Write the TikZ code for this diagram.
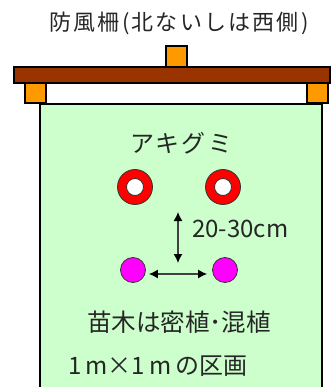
\documentclass[tikz,border=0pt]{standalone}
\usepackage{fontspec}
\setmainfont{Noto Sans CJK JP}
\usetikzlibrary{arrows.meta}
\definecolor{brn}{HTML}{993300}
\definecolor{org}{HTML}{FF9900}
\definecolor{grn}{HTML}{CCFFCC}
\definecolor{rd}{HTML}{FF0000}
\definecolor{mg}{HTML}{FF00FF}
\tikzset{
  box/.style={draw=black,line width=1.2pt},
  arr/.style={line width=1.3pt,draw=black!75,{Latex[length=9pt,width=9pt,black]}-{Latex[length=9pt,width=9pt,black]}},
  lbl/.style={inner sep=0pt,text=black!85},
  ring/.style={circle,draw=black!80,line width=0.8pt,fill=rd,inner sep=0pt,minimum size=35pt},
  hole/.style={circle,draw=black!80,line width=0.8pt,fill=white,inner sep=0pt,minimum size=17pt},
  seed/.style={circle,draw=black!80,line width=0.8pt,fill=mg,inner sep=0pt,minimum size=25pt}
}
\begin{document}
\begin{tikzpicture}[x=1pt,y=-1pt]
\useasboundingbox (0,0) rectangle (331,387);
\fill[white] (0,0) rectangle (331,387);
% field
\fill[grn] (40,104) rectangle (322,390);
\draw[box] (40,390) -- (40,104) -- (322,104) -- (322,390);
% fence
\draw[box,fill=org] (166,46) rectangle (187,67);
\draw[box,fill=brn] (14,67) rectangle (330,83);
\draw[box,fill=org] (25,83) rectangle (46,103);
\draw[box,fill=org] (307,83) rectangle (328,103);
% texts
\node[lbl,font=\fontsize{22}{26}\selectfont\addfontfeature{LetterSpace=10}] (title) at (179,23) {防風柵(北ないしは西側)};
\node[lbl,font=\fontsize{24}{28}\selectfont] (akg) at (181,143) {ア\hspace{2pt}キ\hspace{2pt}グ\hspace{2pt}ミ};
% plants
\node[ring] (r1) at (135,187) {};
\node[hole] (h1) at (r1) {};
\node[ring] (r2) at (223,187) {};
\node[hole] (h2) at (r2) {};
\node[seed] (m1) at (133,270) {};
\node[seed] (m2) at (225,270) {};
\coordinate (vt) at (178,212);
\coordinate (vb) at (178,263);
\draw[arr] (vt) -- (vb);
\draw[arr] ([xshift=3pt,yshift=-4pt]m1.east) -- ([xshift=-5pt,yshift=-4pt]m2.west);
\node[lbl,anchor=west,font=\fontsize{24}{28}\selectfont] (dist) at (192,229) {20-30cm};
\node[lbl,font=\fontsize{24.5}{28}\selectfont] (mix) at (179,322) {苗木は密植･混植};
\node[lbl,anchor=west,font=\fontsize{24}{28}\selectfont] (plot) at (68,366) {1\,m×1\,m\,の区画};
\end{tikzpicture}
\end{document}
